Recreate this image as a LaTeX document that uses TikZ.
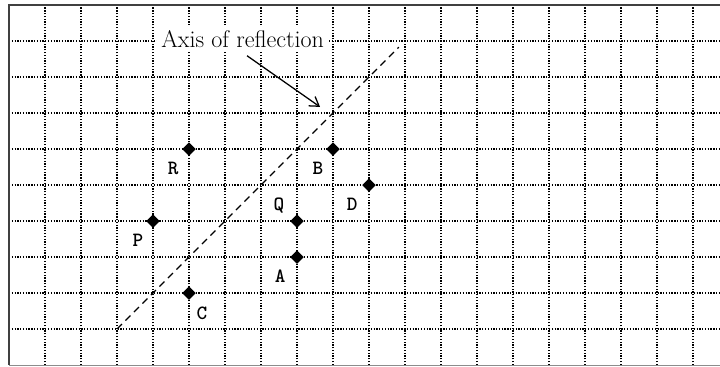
\documentclass[tikz,border=0pt]{standalone}
\usepackage{tikz}
\usetikzlibrary{shapes.geometric, arrows.meta}

\begin{document}
\begin{tikzpicture}[
        gridline/.style={line width=1pt, dash pattern=on 1pt off 1.2pt, black},
        frame/.style={line width=1.6pt, black!75},
        mirror/.style={line width=1pt, dash pattern=on 5.5pt off 4pt},
        pt/.style={diamond, fill=black, inner sep=0pt, minimum width=0.38cm, minimum height=0.38cm},
        tag/.style={font=\fontsize{16}{18}\selectfont\ttfamily\bfseries},
        caption/.style={font=\fontsize{19}{22}\selectfont, fill=white, inner xsep=3pt, inner ysep=4pt},
        pointer/.style={-{Straight Barb[length=7pt, width=9pt]}, line width=1pt}
    ]
    \useasboundingbox (-0.25,-0.03) rectangle (19.75,10.14);

    % grid
    \foreach \y in {1,...,9}
        \draw [gridline] (0,\y) -- (19.75,\y);
    \foreach \x in {1,...,19}
        \draw [gridline] (\x,0) -- (\x,10);
    \draw [frame] (19.75,10) -- (0,10) -- (0,0);
    \draw [line width=0.8pt, black!45] (0,0) -- (19.75,0);

    % axis of reflection
    \coordinate (axlo) at (3,1);
    \coordinate (axhi) at (10.83,8.83);
    \draw [mirror] (axlo) -- (axhi);

    \node (axis) at (6.49,8.83) [caption, anchor=base] {Axis of reflection};
    \coordinate (tip) at (8.64,7.17);
    \draw [pointer, shorten <=0.15cm] (axis.south) -- (tip);

    % points
    \node (R) at (5,6) [pt] {};
    \node (B) at (9,6) [pt] {};
    \node (D) at (10,5) [pt] {};
    \node (Q) at (8,4) [pt] {};
    \node (P) at (4,4) [pt] {};
    \node (A) at (8,3) [pt] {};
    \node (C) at (5,2) [pt] {};

    \node (labR) at (4.56,5.47) [tag] {R};
    \node (labB) at (8.58,5.47) [tag] {B};
    \node (labD) at (9.53,4.47) [tag] {D};
    \node (labQ) at (7.50,4.44) [tag] {Q};
    \node (labP) at (3.58,3.47) [tag] {P};
    \node (labA) at (7.53,2.47) [tag] {A};
    \node (labC) at (5.36,1.44) [tag] {C};

\end{tikzpicture}
\end{document}
